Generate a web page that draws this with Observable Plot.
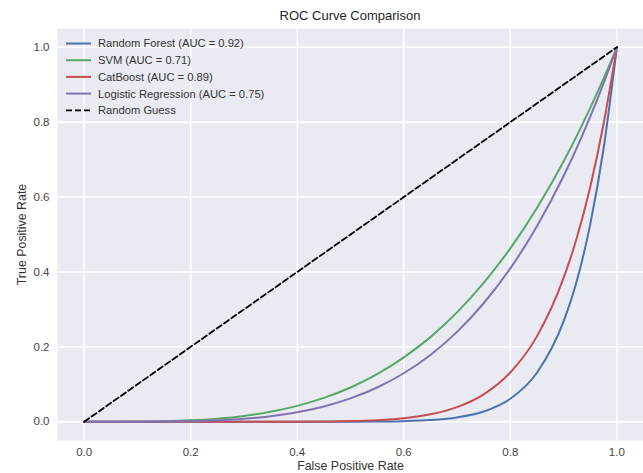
<!DOCTYPE html>
<html><head><meta charset="utf-8">
<script src="https://cdn.jsdelivr.net/npm/d3@7"></script>
<script src="https://cdn.jsdelivr.net/npm/@observablehq/plot@0.6"></script>
<style>
html,body{margin:0;padding:0;background:#fff;font-family:"Liberation Sans",Arial,sans-serif;}
#title{box-sizing:border-box;width:643px;height:28px;line-height:32px;padding-left:57px;font-size:13px;color:#262626;text-align:center;}
#chart svg{display:block;}
</style></head><body>
<div id="title">ROC Curve Comparison</div>
<div id="chart"></div>
<script>
// False positive rate sample points (shared)
const fpr = [0,0.05,0.1,0.15,0.2,0.25,0.3,0.35,0.4,0.45,0.5,0.55,0.6,0.65,0.7,0.75,0.8,0.85,0.9,0.925,0.95,0.975,1];
// True positive rates
const rfTpr  = [0,0,0,0,0,0,0,0,0,0,0.0002,0.0006,0.0017,0.0046,0.0116,0.0274,0.0615,0.131,0.268,0.377,0.527,0.729,1];
const svmTpr = [0,0,0.0004,0.0014,0.0039,0.0084,0.0157,0.0268,0.0425,0.0637,0.0916,0.127,0.172,0.226,0.292,0.371,0.463,0.571,0.695,0.764,0.838,0.916,1];
const catTpr = [0,0,0,0,0,0,0,0,0.0002,0.0007,0.0018,0.0044,0.0096,0.0199,0.0391,0.0732,0.1316,0.228,0.384,0.492,0.627,0.795,1];
const lrTpr  = [0,0,0.0001,0.0005,0.0016,0.0039,0.0081,0.015,0.0256,0.041,0.0625,0.0915,0.1296,0.1785,0.2401,0.3164,0.4096,0.522,0.6561,0.7321,0.8145,0.9037,1];
const modelNames = ["Random Forest","SVM","CatBoost","Logistic Regression"];
const aucValues = [0.92,0.71,0.89,0.75];
const modelColors = ["#4C72B0","#55A868","#C44E52","#8172B2"];
const diagonal = [0,1];
const tickValues = [0,0.2,0.4,0.6,0.8,1.0];

const seriesTpr = [rfTpr, svmTpr, catTpr, lrTpr];
const rows = [];
seriesTpr.forEach((s,i)=> fpr.forEach((x,j)=> rows.push({model:modelNames[i], fpr:x, tpr:s[j]})));
const diagRows = diagonal.map(d=>({fpr:d,tpr:d}));

const chart = Plot.plot({
  width:643, height:445, marginTop:0, marginBottom:33, marginLeft:57, marginRight:0,
  style:{fontFamily:"'Liberation Sans', Arial, sans-serif", fontSize:"11.5px", color:"#444", background:"transparent"},
  x:{domain:[-0.05,1.05]},
  y:{domain:[-0.05,1.05]},
  color:{domain:modelNames, range:modelColors},
  marks:[
    Plot.frame({fill:"#EAEAF2", stroke:null}),
    Plot.gridX({ticks:tickValues, stroke:"white", strokeOpacity:1, strokeWidth:1.5}),
    Plot.gridY({ticks:tickValues, stroke:"white", strokeOpacity:1, strokeWidth:1.5}),
    Plot.axisX({ticks:tickValues, tickSize:0, tickPadding:7, tickFormat:d3.format(".1f"), label:null}),
    Plot.axisY({ticks:tickValues, tickSize:0, tickPadding:8, tickFormat:d3.format(".1f"), label:null}),
    Plot.line(rows,{x:"fpr", y:"tpr", z:"model", stroke:"model", strokeWidth:2, curve:"monotone-x"}),
    Plot.line(diagRows,{x:"fpr", y:"tpr", stroke:"black", strokeWidth:1.8, strokeDasharray:"6,3"}),
    Plot.text(["False Positive Rate"],{frameAnchor:"bottom", dy:26, lineAnchor:"middle", textAnchor:"middle", fontSize:12.4, fill:"#333"}),
    Plot.text(["True Positive Rate"],{frameAnchor:"left", dx:-35, rotate:-90, lineAnchor:"middle", textAnchor:"middle", fontSize:12.4, fill:"#333"})
  ]
});
document.getElementById("chart").appendChild(chart);

// Legend
const legendItems = modelNames.map((n,i)=>({label:`${n} (AUC = ${aucValues[i].toFixed(2)})`, color:modelColors[i], dash:null}));
legendItems.push({label:"Random Guess", color:"black", dash:"6,3"});
const lg = d3.select(chart).append("g")
  .attr("font-family","'Liberation Sans', Arial, sans-serif").attr("font-size",11.2).attr("text-anchor","start");
legendItems.forEach((it,i)=>{
  const yy = 15.5 + i*16.7;
  lg.append("line").attr("x1",66).attr("x2",91).attr("y1",yy).attr("y2",yy)
    .attr("stroke",it.color).attr("stroke-width",it.dash?1.8:2).attr("stroke-dasharray",it.dash);
  lg.append("text").attr("x",98).attr("y",yy).attr("dy","0.35em").attr("text-anchor","start").attr("fill","#333").text(it.label);
});
</script>
</body></html>
